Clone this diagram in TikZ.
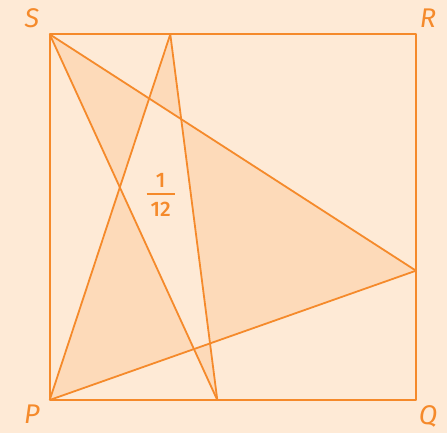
\documentclass[tikz,border=0pt]{standalone}
\usepackage{fontspec}
\setmainfont{Fira Sans}
\newfontfamily\firamed{Fira Sans Medium}
\definecolor{bgc}{HTML}{FEEAD6}
\definecolor{fillc}{HTML}{FDDAB9}
\definecolor{linec}{HTML}{F58A2B}
\tikzset{
  edge/.style={draw=linec, line width=1.8pt, line join=round},
  lbl/.style={text=linec, font=\fontsize{27}{29}\selectfont\itshape, inner sep=0pt},
  fracnum/.style={text=linec, font=\fontsize{21}{23}\selectfont\firamed, inner sep=0pt}
}
\begin{document}
\begin{tikzpicture}[x=1pt,y=-1pt]
\fill[bgc] (0,0) rectangle (447,433);
\useasboundingbox (0,0) rectangle (447,433);
\coordinate (S) at (49.7,34.3);
\coordinate (R) at (416,34.3);
\coordinate (P) at (49.7,400);
\coordinate (Q) at (416,400);
\coordinate (T) at (170.3,34.3);
\coordinate (B) at (217.3,400);
\coordinate (E) at (416,270.7);
% shaded regions: even-odd of three triangles
\fill[fillc, even odd rule] (P) -- (T) -- (B) -- cycle
  (S) -- (E) -- (P) -- cycle
  (S) -- (B) -- (P) -- cycle;
% square
\draw[edge] (S) -- (R) -- (Q) -- (P) -- cycle;
% lines
\draw[edge] (S) -- (B);
\draw[edge] (S) -- (E);
\draw[edge] (P) -- (T);
\draw[edge] (P) -- (E);
\draw[edge] (T) -- (B);
% labels
\node[lbl] (lS) at (32,18) {S};
\node[lbl] (lR) at (428,18) {R};
\node[lbl] (lP) at (32,414) {P};
\node[lbl] (lQ) at (428,416) {Q};
% fraction 1/12
\node[fracnum] (num) at (160.7,180.7) {1};
\node[fracnum] (den) at (160.7,209) {12};
\coordinate (barL) at (146.7,194);
\coordinate (barR) at (175,194);
\draw[draw=linec, line width=1.6pt] (barL) -- (barR);
\end{tikzpicture}
\end{document}
